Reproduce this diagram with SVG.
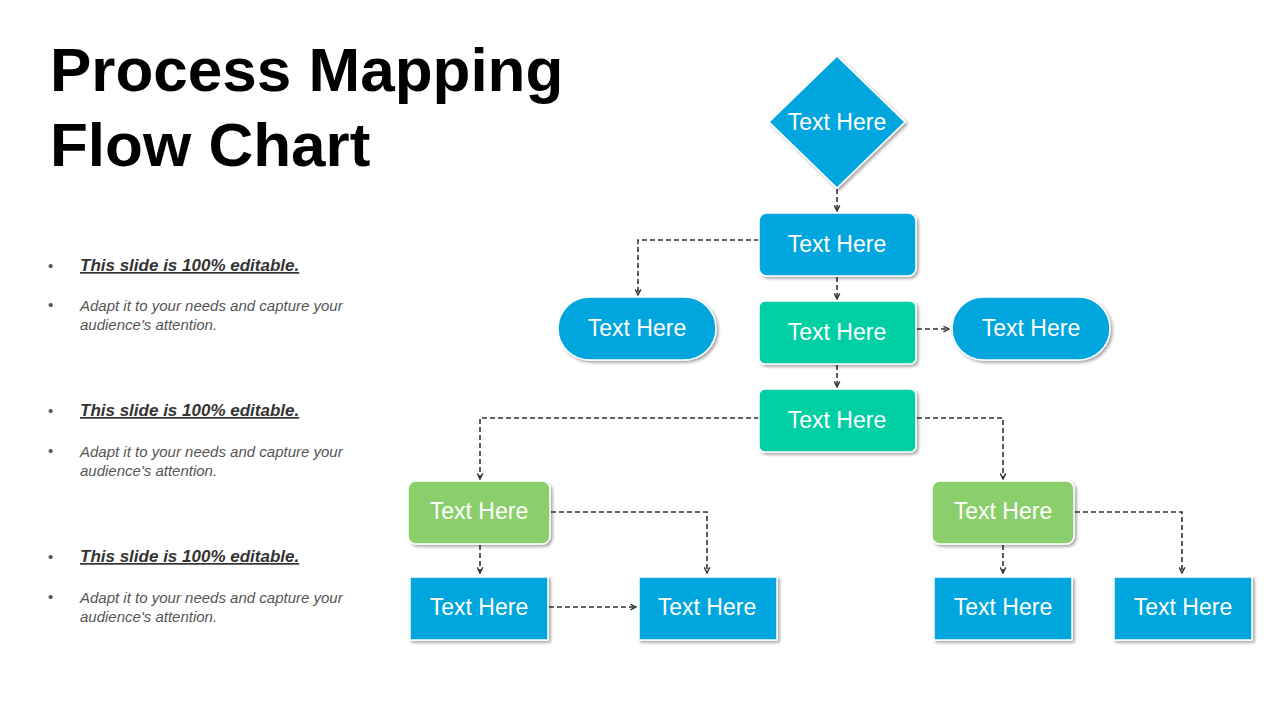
<svg xmlns="http://www.w3.org/2000/svg" width="1280" height="720" viewBox="0 0 1280 720">
<style>
.t{font-family:"Liberation Sans",Arial,sans-serif;font-size:23px;fill:#fff;text-anchor:middle;dominant-baseline:central}
.c{fill:none;stroke:#333;stroke-width:1.6;stroke-dasharray:5,3;marker-end:url(#a)}
.b{fill:#02A6DD}.g{fill:#00CFA3}.l{fill:#8BCF6C}
.n{filter:url(#s);stroke:#fff;stroke-width:1.5}
.h{font-family:"Liberation Sans",Arial,sans-serif;font-weight:bold;font-size:62px;fill:#000}
.bt{font-family:"Liberation Sans",Arial,sans-serif;font-style:italic;font-weight:bold;font-size:17px;fill:#333;text-decoration:underline}
.st{font-family:"Liberation Sans",Arial,sans-serif;font-style:italic;font-size:15px;fill:#555}
.d{font-family:"Liberation Sans",Arial,sans-serif;font-size:15px;fill:#555}
</style>
<defs>
<filter id="s" x="-20%" y="-20%" width="140%" height="140%"><feDropShadow dx="2" dy="2" stdDeviation="1.5" flood-color="#000" flood-opacity="0.35"/></filter>
<marker id="a" viewBox="0 0 10 10" refX="9" refY="5" markerWidth="7" markerHeight="7" orient="auto" markerUnits="userSpaceOnUse"><path d="M1,1 L9,5 L1,9" fill="none" stroke="#333" stroke-width="2"/></marker>
</defs>
<rect width="1280" height="720" fill="#fff"/>
<text class="h" x="50" y="91">Process Mapping</text>
<text class="h" x="50" y="166">Flow Chart</text>
<g id="notes">
<text class="d" x="48" y="271">•</text><text class="bt" x="80" y="271">This slide is 100% editable.</text>
<text class="d" x="48" y="310">•</text><text class="st" x="80" y="311">Adapt it to your needs and capture your</text><text class="st" x="80" y="330">audience's attention.</text>
<text class="d" x="48" y="416">•</text><text class="bt" x="80" y="416">This slide is 100% editable.</text>
<text class="d" x="48" y="456">•</text><text class="st" x="80" y="457">Adapt it to your needs and capture your</text><text class="st" x="80" y="476">audience's attention.</text>
<text class="d" x="48" y="562">•</text><text class="bt" x="80" y="562">This slide is 100% editable.</text>
<text class="d" x="48" y="602">•</text><text class="st" x="80" y="603">Adapt it to your needs and capture your</text><text class="st" x="80" y="622">audience's attention.</text>
</g>
<g id="connectors">
<path class="c" d="M837,189 V211"/>
<path class="c" d="M759,240 H638 V295"/>
<path class="c" d="M837,277 V299"/>
<path class="c" d="M917,329 H949"/>
<path class="c" d="M837,365 V387"/>
<path class="c" d="M759,418 H480 V479"/>
<path class="c" d="M917,418 H1003 V479"/>
<path class="c" d="M480,545 V573"/>
<path class="c" d="M551,512 H707 V573"/>
<path class="c" d="M549,607 H636"/>
<path class="c" d="M1003,545 V573"/>
<path class="c" d="M1075,512 H1182 V573"/>
</g>
<g id="n1"><polygon class="n b" points="837,56 905,122 837,188 769,122"/><text class="t" x="837" y="122">Text Here</text></g>
<g id="n2"><rect class="n b" x="759" y="213" width="157" height="63" rx="8"/><text class="t" x="837" y="244">Text Here</text></g>
<g id="n3"><rect class="n b" x="558" y="297" width="158" height="63" rx="31.5"/><text class="t" x="637" y="328">Text Here</text></g>
<g id="n4"><rect class="n g" x="759" y="301" width="157" height="63" rx="6"/><text class="t" x="837" y="332">Text Here</text></g>
<g id="n5"><rect class="n b" x="952" y="297" width="158" height="63" rx="31.5"/><text class="t" x="1031" y="328">Text Here</text></g>
<g id="n6"><rect class="n g" x="759" y="389" width="157" height="63" rx="6"/><text class="t" x="837" y="420">Text Here</text></g>
<g id="n7"><rect class="n l" x="408" y="481" width="142" height="63" rx="8"/><text class="t" x="479" y="511">Text Here</text></g>
<g id="n8"><rect class="n l" x="932" y="481" width="142" height="63" rx="8"/><text class="t" x="1003" y="511">Text Here</text></g>
<g id="n9"><rect class="n b" x="410" y="577" width="138" height="63"/><text class="t" x="479" y="607">Text Here</text></g>
<g id="n10"><rect class="n b" x="639" y="577" width="138" height="63"/><text class="t" x="707" y="607">Text Here</text></g>
<g id="n11"><rect class="n b" x="934" y="577" width="138" height="63"/><text class="t" x="1003" y="607">Text Here</text></g>
<g id="n12"><rect class="n b" x="1114" y="577" width="138" height="63"/><text class="t" x="1183" y="607">Text Here</text></g>
</svg>
